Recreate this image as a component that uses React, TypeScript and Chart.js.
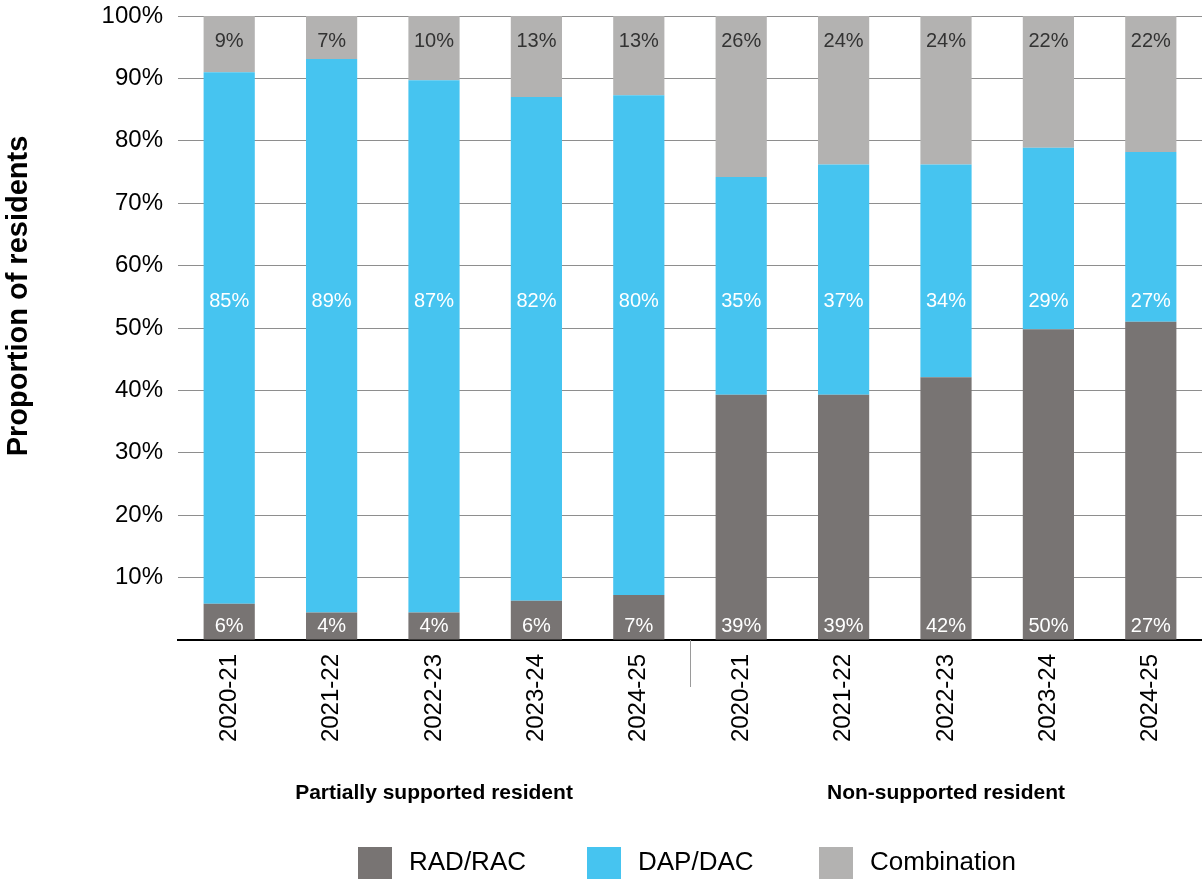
import React, { useEffect, useRef } from "react";
import { Chart, registerables } from "chart.js";

Chart.register(...registerables);

const categories = ["2020-21", "2021-22", "2022-23", "2023-24", "2024-25", "2020-21", "2021-22", "2022-23", "2023-24", "2024-25"];
const groupNames = ["Partially supported resident", "Non-supported resident"];
const groupSizes = [5, 5];
const seriesNames = ["RAD/RAC", "DAP/DAC", "Combination"];
const seriesColors = ["#787473", "#46C4F0", "#B3B2B1"];

const radRac = [5.8, 4.4, 4.4, 6.3, 7.2, 39.3, 39.3, 42.1, 49.8, 51.0];
const dapDac = [85.2, 88.7, 85.3, 80.7, 80.1, 34.9, 36.9, 34.1, 29.1, 27.2];
const combination = [9.0, 6.9, 10.3, 13.0, 12.7, 25.8, 23.8, 23.8, 21.1, 21.8];

const radRacLabels = ["6%", "4%", "4%", "6%", "7%", "39%", "39%", "42%", "50%", "27%"];
const dapDacLabels = ["85%", "89%", "87%", "82%", "80%", "35%", "37%", "34%", "29%", "27%"];
const combinationLabels = ["9%", "7%", "10%", "13%", "13%", "26%", "24%", "24%", "22%", "22%"];

const yTickLabels = ["", "10%", "20%", "30%", "40%", "50%", "60%", "70%", "80%", "90%", "100%"];
const yTitle = "Proportion of residents";

const FONT = '"Liberation Sans", Arial, Helvetica, sans-serif';

const overlayPlugin = {
  id: "overlay",
  afterDatasetsDraw(chart: any) {
    const { ctx, scales } = chart;
    const x = scales.x;
    const y = scales.y;
    ctx.save();
    ctx.font = `20px ${FONT}`;
    ctx.textAlign = "center";
    ctx.textBaseline = "middle";
    const sets = [
      { labels: radRacLabels, v: 2.1, color: "#ffffff" },
      { labels: dapDacLabels, v: 54.2, color: "#ffffff" },
      { labels: combinationLabels, v: 95.9, color: "#333333" },
    ];
    sets.forEach((s) => {
      ctx.fillStyle = s.color;
      s.labels.forEach((lab, i) => {
        ctx.fillText(lab, x.getPixelForValue(i), y.getPixelForValue(s.v));
      });
    });
    ctx.restore();
  },
  afterDraw(chart: any) {
    const { ctx, scales, chartArea } = chart;
    const x = scales.x;
    ctx.save();

    // group separator
    let start = 0;
    for (let g = 0; g < groupSizes.length - 1; g++) {
      start += groupSizes[g];
      const sx = Math.round((x.getPixelForValue(start - 1) + x.getPixelForValue(start)) / 2) + 0.5;
      ctx.strokeStyle = "#9a9a9a";
      ctx.lineWidth = 1;
      ctx.beginPath();
      ctx.moveTo(sx, chartArea.bottom);
      ctx.lineTo(sx, chartArea.bottom + 47);
      ctx.stroke();
    }

    // group labels
    ctx.font = `bold 21px ${FONT}`;
    ctx.fillStyle = "#000";
    ctx.textAlign = "center";
    ctx.textBaseline = "middle";
    let s0 = 0;
    groupNames.forEach((name, g) => {
      const first = x.getPixelForValue(s0);
      const last = x.getPixelForValue(s0 + groupSizes[g] - 1);
      ctx.fillText(name, (first + last) / 2, chartArea.bottom + 153);
      s0 += groupSizes[g];
    });

    // y title
    ctx.save();
    ctx.translate(19, (chartArea.top + chartArea.bottom) / 2 - 32);
    ctx.rotate(-Math.PI / 2);
    ctx.font = `bold 29px ${FONT}`;
    ctx.fillText(yTitle, 0, 0);
    ctx.restore();

    // legend
    const legendX = [358, 587, 819];
    const ly = 847;
    ctx.font = `26px ${FONT}`;
    ctx.textAlign = "left";
    seriesNames.forEach((name, i) => {
      ctx.fillStyle = seriesColors[i];
      ctx.fillRect(legendX[i], ly, 34, 32);
      ctx.fillStyle = "#000";
      ctx.fillText(name, legendX[i] + 51, ly + 16);
    });

    ctx.restore();
  },
};

export default function App() {
  const canvasRef = useRef<HTMLCanvasElement | null>(null);

  useEffect(() => {
    if (!canvasRef.current) return;
    const chart = new Chart(canvasRef.current, {
      type: "bar",
      data: {
        labels: categories,
        datasets: [
          { label: seriesNames[0], data: radRac, backgroundColor: seriesColors[0], barPercentage: 0.5, categoryPercentage: 1 },
          { label: seriesNames[1], data: dapDac, backgroundColor: seriesColors[1], barPercentage: 0.5, categoryPercentage: 1 },
          { label: seriesNames[2], data: combination, backgroundColor: seriesColors[2], barPercentage: 0.5, categoryPercentage: 1 },
        ],
      },
      options: {
        responsive: false,
        animation: false,
        layout: { padding: { top: 16, left: 0, right: 0, bottom: 0 } },
        plugins: {
          legend: { display: false },
          tooltip: { enabled: false },
          title: { display: false },
        },
        scales: {
          x: {
            stacked: true,
            grid: { display: false, drawTicks: false },
            border: { display: true, color: "#000", width: 2 },
            ticks: {
              color: "#000",
              font: { family: FONT, size: 24 },
              minRotation: 90,
              maxRotation: 90,
              padding: 14,
              autoSkip: false,
            },
            afterFit: (scale: any) => {
              scale.height = 241;
            },
          },
          y: {
            stacked: true,
            min: 0,
            max: 100,
            grid: {
              color: (c: any) => (c.tick && c.tick.value === 0 ? "rgba(0,0,0,0)" : "#8e8e8e"),
              lineWidth: 1,
              drawTicks: false,
            },
            border: { display: false },
            ticks: {
              stepSize: 10,
              color: "#000",
              font: { family: FONT, size: 24 },
              padding: 15,
              callback: (_v: any, i: number) => yTickLabels[i],
            },
            afterFit: (scale: any) => {
              scale.width = 178;
              scale.paddingTop = 0;
              scale.paddingBottom = 0;
            },
          },
        },
      },
      plugins: [overlayPlugin],
    });
    return () => chart.destroy();
  }, []);

  return (
    <div style={{ position: "absolute", left: 0, top: 0, width: 1202, height: 881, background: "#fff" }}>
      <canvas ref={canvasRef} width={1202} height={881} style={{ display: "block" }} />
    </div>
  );
}
